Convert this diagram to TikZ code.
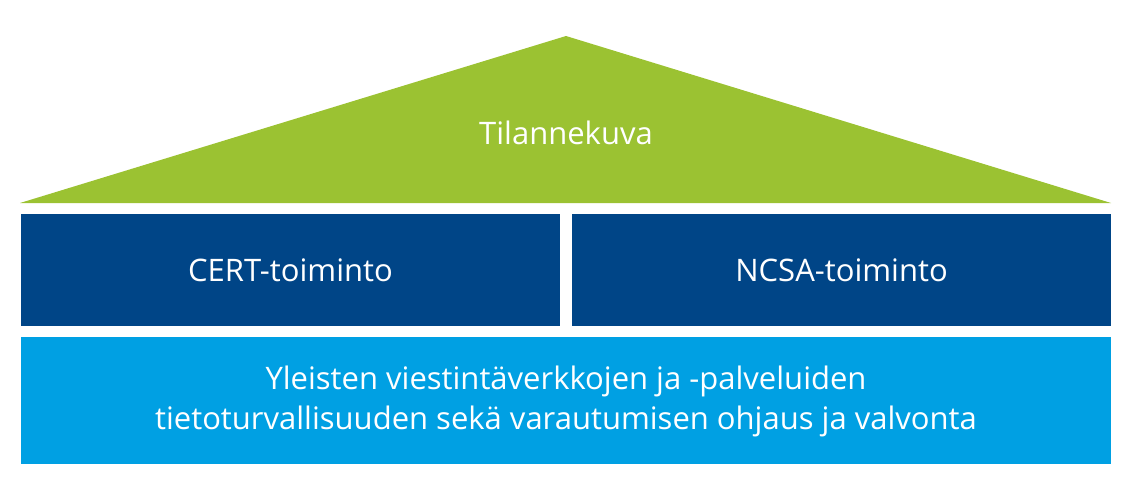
\documentclass[tikz,border=0pt]{standalone}
\usepackage{fontspec}
\setmainfont{Open Sans}
\definecolor{grn}{HTML}{9BC232}
\definecolor{dblue}{HTML}{004587}
\definecolor{lblue}{HTML}{00A0E3}
\begin{document}
\begin{tikzpicture}[x=1pt,y=-1pt,
  lbl/.style={text=white,font=\fontsize{31}{40}\selectfont,align=center}]
\useasboundingbox (0,0) rectangle (1126,501);
\fill[grn] (566,36) -- (1111,203) -- (20,203) -- cycle;
\node[lbl] (t) at (566,133) {Tilannekuva};
\fill[dblue] (21,214) rectangle (560,326);
\node[lbl] (c) at (290.5,270) {CERT-toiminto};
\fill[dblue] (572,214) rectangle (1111,326);
\node[lbl] (n) at (841.5,270) {NCSA-toiminto};
\fill[lblue] (21,337) rectangle (1111,464);
\node[lbl] (y) at (566,401) {Yleisten viestintäverkkojen ja -palveluiden\\tietoturvallisuuden sekä varautumisen ohjaus ja valvonta};
\end{tikzpicture}
\end{document}
